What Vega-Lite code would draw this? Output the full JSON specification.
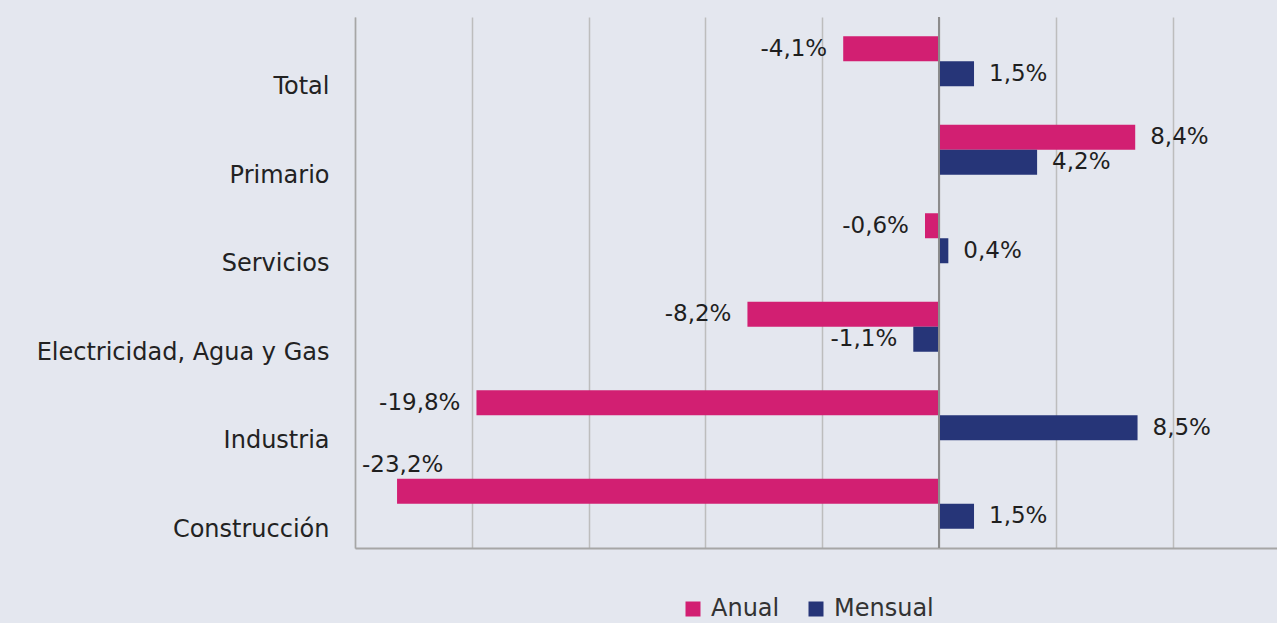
{
  "$schema": "https://vega.github.io/schema/vega-lite/v6.json",
  "width": 922,
  "height": 531,
  "autosize": {"type": "none"},
  "padding": {"left": 355, "top": 17, "right": 0, "bottom": 75},
  "background": "#E4E7EF",
  "config": {
    "locale": {"number": {"decimal": ",", "thousands": ".", "grouping": [3], "currency": ["", ""], "minus": "-"}},
    "view": {"stroke": null},
    "font": "DejaVu Sans"
  },
  "data": {
    "values": [
      {"sector": "Total", "serie": "Anual", "valor": -0.041},
      {"sector": "Total", "serie": "Mensual", "valor": 0.015},
      {"sector": "Primario", "serie": "Anual", "valor": 0.084},
      {"sector": "Primario", "serie": "Mensual", "valor": 0.042},
      {"sector": "Servicios", "serie": "Anual", "valor": -0.006},
      {"sector": "Servicios", "serie": "Mensual", "valor": 0.004},
      {"sector": "Electricidad, Agua y Gas", "serie": "Anual", "valor": -0.082},
      {"sector": "Electricidad, Agua y Gas", "serie": "Mensual", "valor": -0.011},
      {"sector": "Industria", "serie": "Anual", "valor": -0.198},
      {"sector": "Industria", "serie": "Mensual", "valor": 0.085},
      {"sector": "Construcción", "serie": "Anual", "valor": -0.232},
      {"sector": "Construcción", "serie": "Mensual", "valor": 0.015}
    ]
  },
  "layer": [
    {
      "mark": {"type": "bar"},
      "encoding": {
        "y": {
          "field": "sector", "type": "nominal",
          "sort": ["Total", "Primario", "Servicios", "Electricidad, Agua y Gas", "Industria", "Construcción"],
          "scale": {"paddingInner": 0.435, "paddingOuter": 0.2175},
          "axis": {
            "title": null, "ticks": false, "labelOffset": 26, "labelPadding": 26,
            "labelFontSize": 24, "labelColor": "#222222", "labelLimit": 400,
            "domainColor": "#A6A6A6", "domainWidth": 1.5
          }
        },
        "yOffset": {"field": "serie", "type": "nominal", "sort": ["Anual", "Mensual"]},
        "x": {
          "field": "valor", "type": "quantitative",
          "scale": {"domain": [-0.25, 0.1447], "nice": false, "zero": false},
          "axis": {
            "title": null, "labels": false, "ticks": false,
            "values": [-0.25, -0.2, -0.15, -0.1, -0.05, 0, 0.05, 0.1],
            "grid": true, "gridColor": "#BDBDBD", "gridWidth": 1.5,
            "domainColor": "#A6A6A6", "domainWidth": 2
          }
        },
        "color": {
          "field": "serie", "type": "nominal",
          "scale": {"domain": ["Anual", "Mensual"], "range": ["#D21F72", "#263578"]},
          "legend": {
            "title": null, "orient": "none", "legendX": 326, "legendY": 580, "direction": "horizontal",
            "symbolType": "square", "symbolSize": 225, "symbolStrokeWidth": 0,
            "labelFontSize": 24, "labelColor": "#333333", "columnPadding": 24, "labelOffset": 6
          }
        }
      }
    },
    {
      "data": {"values": [{"z": 0}]},
      "mark": {"type": "rule", "color": "#8C8C8C", "strokeWidth": 2},
      "encoding": {"x": {"field": "z", "type": "quantitative"}}
    },
    {
      "transform": [{"filter": "datum.valor >= 0"}],
      "mark": {"type": "text", "align": "left", "baseline": "middle", "dx": 15, "fontSize": 23, "color": "#1F1F1F"},
      "encoding": {
        "y": {"field": "sector", "type": "nominal", "sort": ["Total", "Primario", "Servicios", "Electricidad, Agua y Gas", "Industria", "Construcción"]},
        "yOffset": {"field": "serie", "type": "nominal", "sort": ["Anual", "Mensual"]},
        "x": {"field": "valor", "type": "quantitative"},
        "text": {"field": "valor", "type": "quantitative", "format": ".1%"}
      }
    },
    {
      "transform": [{"filter": "datum.valor < 0 && datum.valor > -0.22"}],
      "mark": {"type": "text", "align": "right", "baseline": "middle", "dx": -16, "fontSize": 23, "color": "#1F1F1F"},
      "encoding": {
        "y": {"field": "sector", "type": "nominal", "sort": ["Total", "Primario", "Servicios", "Electricidad, Agua y Gas", "Industria", "Construcción"]},
        "yOffset": {"field": "serie", "type": "nominal", "sort": ["Anual", "Mensual"]},
        "x": {"field": "valor", "type": "quantitative"},
        "text": {"field": "valor", "type": "quantitative", "format": ".1%"}
      }
    },
    {
      "transform": [{"filter": "datum.valor <= -0.22"}],
      "mark": {"type": "text", "align": "left", "baseline": "middle", "dx": -35, "dy": -26, "fontSize": 23, "color": "#1F1F1F"},
      "encoding": {
        "y": {"field": "sector", "type": "nominal", "sort": ["Total", "Primario", "Servicios", "Electricidad, Agua y Gas", "Industria", "Construcción"]},
        "yOffset": {"field": "serie", "type": "nominal", "sort": ["Anual", "Mensual"]},
        "x": {"field": "valor", "type": "quantitative"},
        "text": {"field": "valor", "type": "quantitative", "format": ".1%"}
      }
    }
  ]
}
